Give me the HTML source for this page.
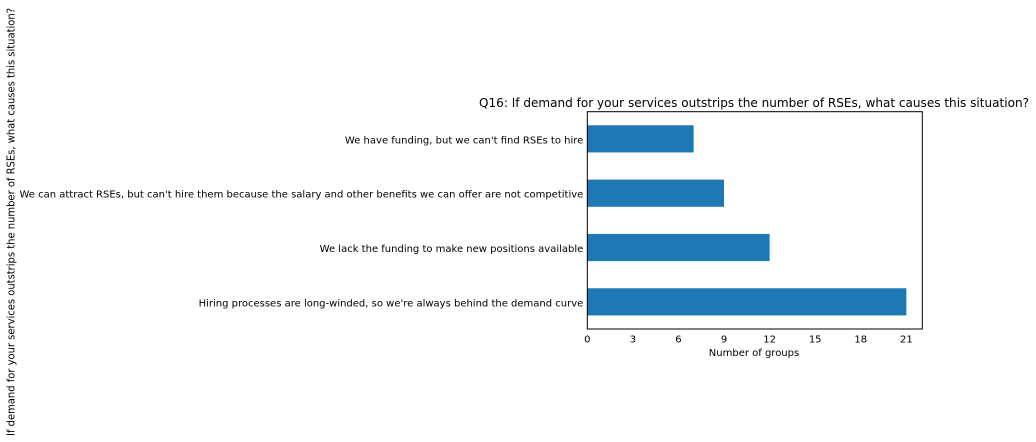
<!DOCTYPE html>
<html><head><meta charset="utf-8"><style>
body{margin:0;background:#fff;}
svg{display:block;font-family:"DejaVu Sans","Liberation Sans",sans-serif;}
</style></head><body>
<svg id="chart" width="1036" height="442">
<text x="11" y="222" font-size="11" text-anchor="middle" transform="rotate(-90 11 222)" dominant-baseline="central" textLength="428" lengthAdjust="spacingAndGlyphs">If demand for your services outstrips the number of RSEs, what causes this situation?</text>
<text x="754" y="107" font-size="12.5" text-anchor="middle" textLength="550" lengthAdjust="spacingAndGlyphs">Q16: If demand for your services outstrips the number of RSEs, what causes this situation?</text>
<text x="754" y="356" font-size="10" text-anchor="middle">Number of groups</text>
<g id="bars"></g>
<rect x="587.3" y="111.7" width="335" height="217.3" fill="none" stroke="#000" stroke-width="1"/>
</svg>
<script>
const categories=["We have funding, but we can't find RSEs to hire","We can attract RSEs, but can't hire them because the salary and other benefits we can offer are not competitive","We lack the funding to make new positions available","Hiring processes are long-winded, so we're always behind the demand curve"];
const values=[7,9,12,21];
const ticks=[0,3,6,9,12,15,18,21];
const L=587.3,R=922.3,T=111.7,B=329,xmax=22.05;
const xs=v=>L+(v/xmax)*(R-L);
const bandH=(B-T)/categories.length;
const ys=i=>T+bandH*(i+0.5);
const ns="http://www.w3.org/2000/svg";
const g=document.getElementById('bars');
values.forEach((v,i)=>{
 const r=document.createElementNS(ns,'rect');
 r.setAttribute('x',xs(0));r.setAttribute('y',ys(i)-bandH*0.25);
 r.setAttribute('width',xs(v)-xs(0));r.setAttribute('height',bandH*0.5);
 r.setAttribute('fill','#1f77b4');
 
 
 g.appendChild(r);
 const t=document.createElementNS(ns,'text');
 t.setAttribute('x',L-4);t.setAttribute('y',ys(i)+4.5);
 t.setAttribute('font-size','10');t.setAttribute('text-anchor','end');
 t.textContent=categories[i];
 
 
 g.appendChild(t);
});
ticks.forEach(v=>{
 const t=document.createElementNS(ns,'text');
 t.setAttribute('x',xs(v));t.setAttribute('y',B+13.5);
 t.setAttribute('font-size','10');t.setAttribute('text-anchor','middle');
 t.textContent=v;
 
 
 g.appendChild(t);
});
</script>
</body></html>
